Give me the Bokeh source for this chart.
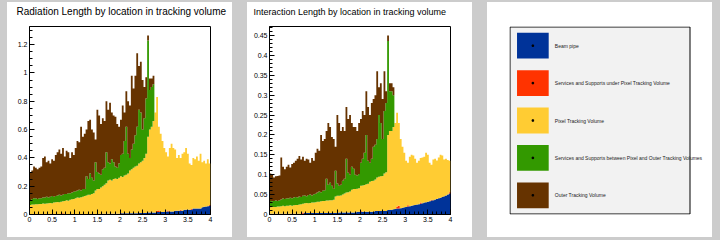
import numpy as np
from bokeh.plotting import figure
from bokeh.layouts import row
from bokeh.models import FixedTicker, Label, Range1d, Title
from bokeh.embed import file_html
from bokeh.resources import INLINE

# ---------------- data ----------------
eta_min, eta_max, n_bins = 0.0, 4.0, 100

layer_names = ["Beam pipe",
               "Services and Supports under Pixel Tracking Volume",
               "Pixel Tracking Volume",
               "Services and Supports between Pixel and Outer Tracking Volumes",
               "Outer Tracking Volume"]
layer_colors = ["#003399", "#ff3300", "#ffcc33", "#339900", "#663300"]

titles = ["Radiation Length by location in tracking volume",
          "Interaction Length by location in tracking volume"]

# Radiation length (x/X0) per eta bin, per volume
rl_beampipe = ([0.002] * 20 + [0.003] * 10 + [0.004] * 10 + [0.006] * 10 + [0.008] * 10
               + [0.011] * 5 + [0.014] * 5 + [0.018] * 5 + [0.022] * 5 + [0.027] * 5
               + [0.034] * 5 + [0.042] * 5 + [0.052, 0.054, 0.056, 0.058, 0.061])
rl_services_pixel = [0.0] * 100
for i, v in [(18, 0.006), (50, 0.003), (70, 0.008), (71, 0.010), (76, 0.006), (83, 0.007), (89, 0.004), (99, 0.006)]:
    rl_services_pixel[i] = v
rl_pixel = [0.066, 0.068, 0.068, 0.070, 0.070, 0.072, 0.073, 0.076, 0.074, 0.076,
            0.078, 0.080, 0.078, 0.082, 0.084, 0.086, 0.084, 0.088, 0.086, 0.094,
            0.097, 0.095, 0.101, 0.105, 0.107, 0.112, 0.117, 0.115, 0.119, 0.122,
            0.126, 0.131, 0.136, 0.136, 0.141, 0.146, 0.166, 0.176, 0.176, 0.186,
            0.194, 0.204, 0.214, 0.234, 0.239, 0.234, 0.244, 0.249, 0.244, 0.254,
            0.259, 0.257, 0.267, 0.272, 0.282, 0.302, 0.312, 0.322, 0.332, 0.337,
            0.349, 0.359, 0.369, 0.389, 0.419, 0.536, 0.586, 0.606, 0.646, 0.706,
            0.804, 0.592, 0.552, 0.502, 0.452, 0.418, 0.382, 0.448, 0.478, 0.448,
            0.433, 0.373, 0.393, 0.366, 0.403, 0.406, 0.436, 0.396, 0.326, 0.312,
            0.358, 0.348, 0.368, 0.338, 0.388, 0.318, 0.326, 0.304, 0.332, 0.293]
rl_services_between = [0.032, 0.040, 0.045, 0.043, 0.038, 0.041, 0.040, 0.042, 0.044, 0.047,
                       0.040, 0.043, 0.050, 0.041, 0.044, 0.047, 0.054, 0.045, 0.046, 0.049,
                       0.045, 0.052, 0.046, 0.047, 0.050, 0.050, 0.050, 0.057, 0.048, 0.055,
                       0.050, 0.135, 0.110, 0.150, 0.115, 0.090, 0.200, 0.120, 0.110, 0.090,
                       0.120, 0.120, 0.220, 0.130, 0.115, 0.150, 0.120, 0.085, 0.080, 0.100,
                       0.150, 0.165, 0.245, 0.340, 0.140, 0.090, 0.140, 0.170, 0.220, 0.275,
                       0.380, 0.350, 0.220, 0.280, 0.390, 0.680, 0.280, 0.280, 0.260] + [0.0] * 31
rl_outer = [0.200, 0.200, 0.225, 0.215, 0.210, 0.215, 0.225, 0.280, 0.290, 0.245,
            0.260, 0.235, 0.260, 0.255, 0.290, 0.305, 0.320, 0.295, 0.330, 0.265,
            0.305, 0.290, 0.250, 0.285, 0.260, 0.305, 0.350, 0.335, 0.450, 0.370,
            0.390, 0.330, 0.410, 0.380, 0.340, 0.340, 0.160, 0.440, 0.410, 0.360,
            0.360, 0.330, 0.360, 0.370, 0.430, 0.330, 0.330, 0.350, 0.310, 0.260,
            0.250, 0.340, 0.200, 0.250, 0.370, 0.370, 0.520, 0.390, 0.420, 0.520,
            0.310, 0.360, 0.350, 0.220, 0.150, 0.035, 0.080, 0.060, 0.060] + [0.0] * 31

# Interaction length (x/lambda0) per eta bin, per volume
il_beampipe = ([0.002] * 19 + [0.004] * 19 + [0.005] * 10 + [0.007] * 10 + [0.009] * 7
               + [0.011, 0.012, 0.012, 0.013, 0.014, 0.015, 0.015, 0.016, 0.017, 0.018,
                  0.019, 0.020, 0.021, 0.022, 0.023, 0.024, 0.025, 0.026, 0.027, 0.028,
                  0.030, 0.031, 0.032, 0.033, 0.035, 0.036, 0.038, 0.039, 0.041, 0.042,
                  0.044, 0.046, 0.048, 0.050, 0.053])
il_services_pixel = [0.0] * 100
for i, v in [(18, 0.003), (50, 0.002), (70, 0.005), (71, 0.007), (76, 0.003), (83, 0.003), (89, 0.002), (99, 0.003)]:
    il_services_pixel[i] = v
il_pixel = [0.016, 0.017, 0.017, 0.017, 0.018, 0.018, 0.019, 0.020, 0.019, 0.020,
            0.020, 0.021, 0.020, 0.021, 0.022, 0.022, 0.023, 0.024, 0.022, 0.024,
            0.025, 0.024, 0.025, 0.026, 0.026, 0.027, 0.028, 0.028, 0.029, 0.030,
            0.030, 0.031, 0.031, 0.032, 0.032, 0.033, 0.041, 0.043, 0.042, 0.043,
            0.045, 0.048, 0.050, 0.051, 0.053, 0.057, 0.059, 0.059, 0.058, 0.059,
            0.063, 0.066, 0.067, 0.069, 0.070, 0.075, 0.077, 0.078, 0.079, 0.084,
            0.086, 0.087, 0.088, 0.094, 0.097, 0.189, 0.198, 0.198, 0.207, 0.216,
            0.236, 0.208, 0.174, 0.153, 0.137, 0.116, 0.107, 0.124, 0.128, 0.125,
            0.116, 0.105, 0.109, 0.112, 0.115, 0.115, 0.124, 0.118, 0.097, 0.088,
            0.102, 0.102, 0.097, 0.102, 0.108, 0.104, 0.092, 0.092, 0.087, 0.079]
il_services_between = [0.016, 0.014, 0.015, 0.016, 0.014, 0.016, 0.017, 0.018, 0.018, 0.019,
                       0.018, 0.019, 0.019, 0.020, 0.020, 0.019, 0.020, 0.018, 0.020, 0.020,
                       0.017, 0.021, 0.021, 0.018, 0.021, 0.021, 0.023, 0.026, 0.023, 0.026,
                       0.027, 0.055, 0.040, 0.044, 0.036, 0.028, 0.065, 0.031, 0.025, 0.027,
                       0.035, 0.037, 0.085, 0.049, 0.042, 0.058, 0.051, 0.036, 0.033, 0.036,
                       0.058, 0.067, 0.081, 0.124, 0.058, 0.048, 0.056, 0.085, 0.087, 0.097,
                       0.155, 0.134, 0.093, 0.157, 0.174, 0.236, 0.100, 0.100, 0.080] + [0.0] * 31
il_outer = [0.069, 0.067, 0.059, 0.061, 0.063, 0.062, 0.105, 0.080, 0.075, 0.079,
            0.085, 0.076, 0.086, 0.087, 0.091, 0.097, 0.102, 0.094, 0.098, 0.087,
            0.094, 0.089, 0.080, 0.094, 0.084, 0.103, 0.110, 0.102, 0.144, 0.125,
            0.129, 0.120, 0.155, 0.140, 0.123, 0.125, 0.060, 0.172, 0.158, 0.135,
            0.135, 0.120, 0.130, 0.135, 0.150, 0.110, 0.105, 0.120, 0.112, 0.128,
            0.110, 0.120, 0.095, 0.110, 0.135, 0.120, 0.140, 0.120, 0.125, 0.170,
            0.070, 0.100, 0.100, 0.100, 0.030, 0.014, 0.020, 0.020, 0.020] + [0.0] * 31

x_ticks = [0, 0.5, 1, 1.5, 2, 2.5, 3, 3.5, 4]
x_tick_labels = ["0", "0.5", "1", "1.5", "2", "2.5", "3", "3.5", "4"]
rl_y_ticks = [0, 0.2, 0.4, 0.6, 0.8, 1.0, 1.2]
rl_y_tick_labels = ["0", "0.2", "0.4", "0.6", "0.8", "1", "1.2"]
il_y_ticks = [0, 0.05, 0.1, 0.15, 0.2, 0.25, 0.3, 0.35, 0.4, 0.45]
il_y_tick_labels = ["0", "0.05", "0.1", "0.15", "0.2", "0.25", "0.3", "0.35", "0.4", "0.45"]

# ---------------- style ----------------
FONT = "Liberation Sans"
CANVAS_BG = "#cccccc"
PAD_W, PAD_H = 225, 235
PAD_MARGIN = (2, 8, 3, 7)
BL, BR, BT, BB = 22, 22, 23, 23          # pad-to-frame distances
FRAME_W, FRAME_H = PAD_W - BL - BR, PAD_H - BT - BB
PAD_STYLE = {"background-color": "white"}


def style_axis(ax, ticks, labels, minor):
    ax.ticker = FixedTicker(ticks=ticks, minor_ticks=minor)
    ax.major_label_overrides = {t: l for t, l in zip(ticks, labels)}
    ax.axis_line_color = "black"
    ax.major_tick_line_color = "black"
    ax.minor_tick_line_color = "black"
    ax.major_tick_in = 5
    ax.major_tick_out = 0
    ax.minor_tick_in = 3
    ax.minor_tick_out = 0
    ax.major_label_text_font = FONT
    ax.major_label_text_font_size = "7px"
    ax.major_label_text_color = "black"
    ax.major_label_standoff = 2


def make_hist(title, layers, y_ticks, y_labels, y_minor_step, title_offset, title_size):
    edges = np.linspace(eta_min, eta_max, n_bins + 1)
    arr = np.array(layers, dtype=float)
    tops = np.cumsum(arr, axis=0)
    bottoms = tops - arr
    ymax = tops[-1].max() * 1.05
    p = figure(width=PAD_W, height=PAD_H, x_range=Range1d(eta_min, eta_max), y_range=Range1d(0, ymax),
               output_backend="svg", toolbar_location=None, margin=PAD_MARGIN, styles=PAD_STYLE,
               min_border_left=BL, min_border_right=BR, min_border_top=BT, min_border_bottom=BB)
    for k, color in enumerate(layer_colors):
        y1 = np.append(bottoms[k], bottoms[k][-1])
        y2 = np.append(tops[k], tops[k][-1])
        p.varea_step(x=edges, y1=y1, y2=y2, step_mode="after", fill_color=color)
    p.grid.visible = False
    p.background_fill_color = "white"
    p.border_fill_color = "white"
    p.outline_line_color = "black"
    p.outline_line_width = 1
    style_axis(p.xaxis[0], x_ticks, x_tick_labels, list(np.arange(0, 4.0001, 0.1)))
    style_axis(p.yaxis[0], y_ticks, y_labels, list(np.arange(0, ymax, y_minor_step)))
    p.title.text = title
    p.title.text_font = FONT
    p.title.text_font_size = title_size
    p.title.text_font_style = "normal"
    p.title.text_color = "black"
    p.title.align = "left"
    p.title.offset = title_offset
    p.title.standoff = 2
    # empty spacer between the title and the frame
    p.add_layout(Title(text=" ", text_font_size="2px", standoff=5), "above")
    return p


p1 = make_hist(titles[0], [rl_beampipe, rl_services_pixel, rl_pixel, rl_services_between, rl_outer],
               rl_y_ticks, rl_y_tick_labels, 0.05, -13, "10px")
p2 = make_hist(titles[1], [il_beampipe, il_services_pixel, il_pixel, il_services_between, il_outer],
               il_y_ticks, il_y_tick_labels, 0.01, -16, "9px")

# legend pad: frame spans the legend box height and runs to the pad's right edge
LEG_EXTRA_R = PAD_W - BL - FRAME_W      # room on the right for the long label
p3 = figure(width=PAD_W, height=PAD_H,
            x_range=Range1d(-0.5 / (FRAME_W - 1), (FRAME_W + LEG_EXTRA_R - 0.5) / (FRAME_W - 1)),
            y_range=Range1d(-0.5 / (FRAME_H - 1), (FRAME_H - 0.5) / (FRAME_H - 1)),
            output_backend="svg", toolbar_location=None, margin=PAD_MARGIN, styles=PAD_STYLE,
            x_axis_location=None, y_axis_location=None, title=None,
            min_border_left=BL, min_border_right=0, min_border_top=BT, min_border_bottom=BB)
p3.grid.visible = False
p3.background_fill_color = "white"
p3.border_fill_color = "white"
p3.outline_line_color = None
p3.quad(left=0, right=1, bottom=0, top=1, fill_color="#f2f2f2", line_color="black", line_width=1)
n = len(layer_names)
centers = [1 - (i + 0.5) / n for i in range(n)]
half = 0.069
box_l, box_r, text_x = 0.039, 0.215, 0.249
p3.quad(left=box_l, right=box_r, top=[c + half for c in centers], bottom=[c - half for c in centers],
        fill_color=layer_colors, line_color=None)
p3.scatter(x=[(box_l + box_r) / 2] * n, y=centers, size=1.5, marker="square", color="black")
for name, c in zip(layer_names, centers):
    p3.add_layout(Label(x=text_x, y=c, text=name, text_font=FONT, text_font_size="5px",
                        text_baseline="middle", text_color="#222222"))

layout = row(p1, p2, p3, styles={"background-color": CANVAS_BG}, spacing=0)
open("out.html", "w").write(file_html(layout, INLINE))
